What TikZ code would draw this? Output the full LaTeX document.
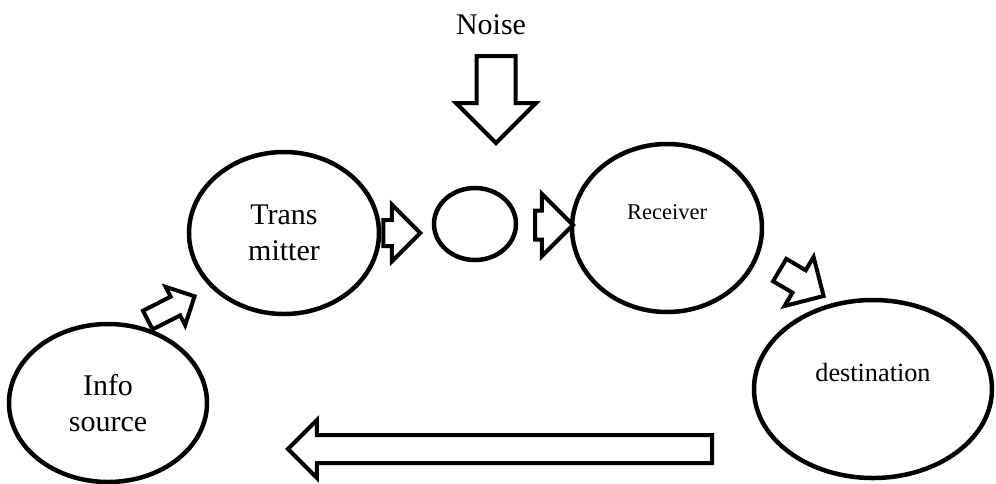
\documentclass[tikz,border=0pt]{standalone}
\usepackage{fontspec}
\setmainfont{Liberation Serif}
\usetikzlibrary{shapes.geometric,shapes.arrows}

\newcommand{\stagefont}{\fontsize{12}{14.4}\selectfont}

\tikzset{
  stage/.style={ellipse, draw=black, line width=1.8pt, inner sep=0pt,
    align=center, font=\stagefont},
  fatarrow/.style={single arrow, draw=black, line width=1.6pt, inner sep=0pt,
    text depth=0pt, single arrow tip angle=90, anchor=tail},
}

\begin{document}
\begin{tikzpicture}[x=0.4pt, y=-0.4pt]
\useasboundingbox (0,0) rectangle (996,483);

% the five stages
\node[stage, minimum width=79.2pt, minimum height=63.2pt] (info) at (108,403) {Info\\source};
\node[stage, minimum width=76pt, minimum height=64.8pt] (trans) at (284,233) {Trans\\mitter};
\node[stage, minimum width=32.8pt, minimum height=28.8pt] (chan) at (475,224) {};
\node[stage, minimum width=76pt, minimum height=67.2pt] (recv) at (667,228) {};
\node[stage, minimum width=95.2pt, minimum height=71.2pt] (dest) at (873,389) {};
\node[font=\fontsize{9}{11}\selectfont] (recvtext) at ([yshift=6.4pt]recv.center) {Receiver};
\node[font=\fontsize{10.5}{12}\selectfont] (desttext) at ([yshift=6.4pt]dest.center) {destination};
\node[font=\stagefont] (noise) at (491,25) {Noise};

% block arrows
\node[fatarrow, text height=14pt, single arrow head extend=8.2pt,
      minimum height=34.8pt, rotate=-90] (noisearr) at (496,54) {};
\node[fatarrow, text height=6.8pt, single arrow head extend=4.4pt,
      minimum height=21pt, rotate=27] (i2t) at (146,321) {};
\node[fatarrow, text height=8.8pt, single arrow head extend=6.2pt,
      minimum height=14.8pt] (t2c) at (trans.east) {};
\node[fatarrow, text height=10pt, single arrow head extend=6.6pt,
      minimum height=15.2pt] (c2r) at (533,225) {};
\node[fatarrow, text height=8.8pt, single arrow head extend=6.2pt,
      minimum height=20.4pt, rotate=-30.6] (r2d) at (778,269) {};
\node[fatarrow, text height=9.6pt, single arrow head extend=6pt,
      minimum height=169.6pt, rotate=180] (back) at (714,449) {};
\end{tikzpicture}
\end{document}
